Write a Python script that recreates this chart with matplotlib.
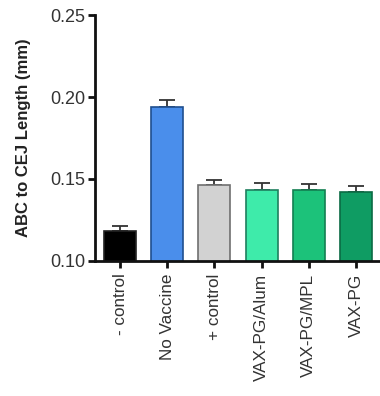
import matplotlib
matplotlib.use("Agg")
import matplotlib.pyplot as plt

categories = ["- control", "No Vaccine", "+ control", "VAX-PG/Alum", "VAX-PG/MPL", "VAX-PG"]
values = [0.118, 0.194, 0.1465, 0.143, 0.143, 0.142]
errors = [0.0033, 0.004, 0.0027, 0.0043, 0.0037, 0.0036]
colors = ["#000000", "#4A8EEB", "#D2D2D2", "#3EEBAA", "#1CC27A", "#0F9C63"]
edges = ["#222222", "#1F4F8F", "#6F6F6F", "#1F7F5F", "#137F52", "#0B6B44"]
yticks = [0.10, 0.15, 0.20, 0.25]

plt.rcParams['font.family'] = ['Liberation Sans', 'DejaVu Sans']

fig = plt.figure(figsize=(3.8, 3.96), dpi=100)
ax = fig.add_axes([0.25, 0.341, 0.75, 0.621])

x = list(range(len(categories)))
ax.bar(x, values, width=0.68, color=colors, edgecolor=edges, linewidth=1.2, zorder=2)
ax.errorbar(x, values, yerr=[[0]*len(errors), errors], fmt='none', ecolor='#333333',
            elinewidth=1.3, capsize=6, capthick=1.3, zorder=1)

ax.set_ylim(0.10, 0.25)
ax.set_xlim(-0.53, 5.51)
ax.set_yticks(yticks)
ax.set_yticklabels([f"{t:.2f}" for t in yticks], fontsize=13, color='#333333')
ax.set_xticks(x)
ax.set_xticklabels(categories, rotation=90, fontsize=12.3, color='#333333')
ax.set_ylabel("ABC to CEJ Length (mm)", fontsize=12, fontweight='bold', color='#222222', labelpad=14)

for s in ['top', 'right']:
    ax.spines[s].set_visible(False)
for s in ['left', 'bottom']:
    ax.spines[s].set_linewidth(2)
    ax.spines[s].set_color('#111111')
ax.tick_params(axis='both', width=2, length=5, color='#111111')
ax.tick_params(axis='y', pad=2)
ax.tick_params(axis='x', pad=4)

fig.savefig("out.png", dpi=100)
